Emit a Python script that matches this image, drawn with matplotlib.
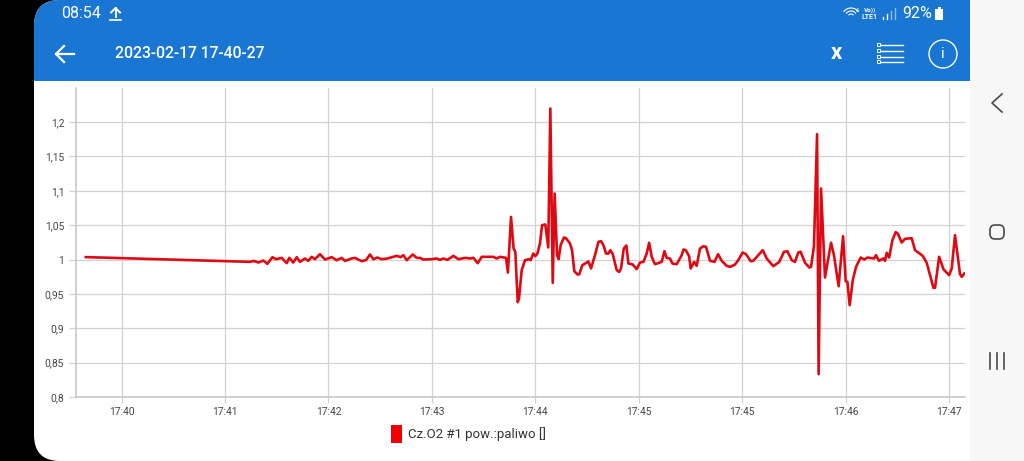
import matplotlib
matplotlib.use('Agg')
import matplotlib.pyplot as plt
from matplotlib.patches import FancyBboxPatch, Rectangle, Circle, Arc

plt.rcParams['font.family'] = ['Roboto', 'DejaVu Sans']

# seconds since the first labelled tick, oxygen ratio
times = [-20.7,
	74.5, 76.8, 79.3, 82.2, 84.6, 87.5, 89.6, 92.9, 95.8, 97.3, 99.6, 101.6, 103.5, 106.4, 108.3,
	110.3, 112.2, 115.1, 118.0, 121.9, 124.8, 127.7, 129.6, 133.5, 135.4, 139.3, 141.8, 144.1, 146.1,
	148.4, 150.9, 154.2, 157.7, 159.6, 161.9, 163.5, 165.4, 168.9, 171.2, 173.1, 175.1, 179.9, 182.8,
	184.7, 186.7, 189.0, 192.5, 195.4, 199.3, 202.1, 204.1, 206.6, 208.9, 215.7, 217.6, 219.5, 223.0,
	224.1, 225.9, 227.4, 228.4, 229.8, 230.5, 232.1, 234.0, 236.3, 237.3, 238.8, 240.0, 241.2, 242.7,
	243.9, 245.8, 247.5, 248.7, 250.1, 251.2, 252.6, 253.5, 254.7, 256.6, 257.8, 260.1, 261.3, 262.6,
	264.6, 265.5, 267.3, 270.8, 272.3, 274.6, 276.6, 278.1, 279.5, 281.0, 282.4, 283.5, 284.9, 287.2,
	288.6, 289.7, 291.3, 292.8, 294.0, 296.5, 298.8, 300.7, 302.7, 304.6, 306.0, 307.5, 309.4, 313.3,
	314.9, 316.2, 318.1, 319.5, 322.0, 324.9, 325.9, 327.2, 329.2, 330.1, 332.1, 333.6, 335.5, 337.5,
	339.0, 341.3, 343.9, 346.0, 348.1, 351.0, 352.9,
	355.8, 357.7, 360.2, 362.2, 364.9, 366.4, 371.9, 374.2, 378.0, 381.5, 384.2, 386.2, 388.7, 390.6,
	392.5, 393.9, 396.4, 398.9, 399.9, 401.6, 403.4, 404.3, 405.7, 408.0, 411.5, 413.2, 415.9, 418.5,
	420.0, 421.0, 422.3, 424.1, 426.0, 428.7, 430.8, 432.6, 436.5, 437.6, 439.3, 441.9, 442.8, 443.8,
	445.2, 447.1, 449.0, 450.2, 452.5, 454.4, 458.3, 460.2, 464.7, 467.0, 468.9, 470.9, 471.8, 474.2,
	476.7, 480.0, 481.5, 483.4, 486.3, 487.3, 488.8]
ratio = [1.0035,
	0.9966, 0.998, 0.9956, 0.9985, 0.9937, 1.0034, 1.0005, 1.0024, 0.9947, 1.0024, 0.9956, 1.0034, 0.9966, 1.0015, 0.998,
	1.0039, 1.0005, 1.0078, 1.0, 1.0034, 0.999, 1.0024, 0.998, 1.0015, 1.0024, 0.9976, 0.999, 1.0073, 1.0005,
	1.0029, 1.0005, 1.0015, 1.0039, 1.0053, 1.0034, 1.0063, 0.999, 1.0073, 1.0024, 1.0024, 1.0, 1.0005, 1.0015,
	0.9995, 1.0015, 0.9995, 1.0053, 1.0005, 1.0024, 1.0015, 1.0024, 0.9947, 1.0039, 1.0039, 1.0015, 1.0039, 1.0024,
	0.981, 1.062, 1.016, 1.011, 0.938, 0.943, 0.9845, 0.999, 1.0005, 0.999, 1.0087, 1.0049, 1.0087, 1.0233,
	1.05, 1.051, 1.0175, 1.2197, 0.966, 1.096, 1.0063, 1.0005, 1.021, 1.032, 1.031, 1.0233, 1.0136, 0.983,
	0.978, 0.9787, 0.9918, 0.9971, 0.987, 1.0063, 1.0257, 1.0267, 1.0209, 1.0087, 1.0087, 1.0136, 1.0078, 0.9845,
	0.982, 0.987, 1.016, 1.0204, 0.9942, 0.9927, 0.986, 0.9956, 0.9966, 1.0087, 1.0243, 1.0039, 0.9932, 0.9966,
	1.0121, 1.0024, 1.0015, 0.9942, 0.9932, 1.0063, 1.0146, 1.0136, 1.0049, 0.987, 0.9966, 0.9908, 1.016, 1.0194,
	1.0184, 0.9981, 0.9966, 1.0078, 0.9981, 0.9908, 0.9893,
	0.9927, 0.999, 1.0102, 1.0078, 0.9976, 0.9981, 1.0136, 1.0015, 0.9903, 0.9966, 1.0112, 1.0121, 0.999, 0.9966,
	1.0102, 1.0112, 0.9952, 0.9884, 0.9893, 1.0194, 1.1824, 0.8332, 1.1033, 0.9738, 1.0243, 1.0063, 0.9612, 1.034,
	0.9685, 0.9675, 0.9336, 0.9699, 0.9893, 1.0029, 1.0, 1.0029, 1.0015, 1.0063, 0.9981, 1.0015, 0.9981, 1.0097,
	1.0029, 1.0281, 1.0398, 1.0378, 1.0247, 1.0301, 1.031, 1.0136, 1.0053, 0.9952, 0.9772, 0.9588, 0.9588, 1.0039,
	0.9859, 0.9772, 0.9869, 1.0354, 0.9787, 0.9748, 0.9796]
x_ticks = [0, 60, 120, 180, 240, 300, 360, 420, 480]
x_labels = ['17:40', '17:41', '17:42', '17:43', '17:44', '17:45', '17:45', '17:46', '17:47']
y_ticks = [0.8, 0.85, 0.9, 0.95, 1.0, 1.05, 1.1, 1.15, 1.2]
y_labels = ['0,8', '0,85', '0,9', '0,95', '1', '1,05', '1,1', '1,15', '1,2']

W, H = 1024, 461
BLUE = '#1976d2'
GRID = '#d2d2d2'

fig = plt.figure(figsize=(W / 100, H / 100), dpi=100, facecolor='black')

# screen furniture, in pixels
bg = fig.add_axes([0, 0, 1, 1])
bg.set_xlim(0, W)
bg.set_ylim(H, 0)
bg.axis('off')
screen = FancyBboxPatch((34, 0), 1100, H, boxstyle='round,pad=0,rounding_size=26', fc='white', ec='none')
bg.add_patch(screen)
header = Rectangle((34, 0), 936, 81, fc=BLUE, ec='none')
bg.add_patch(header)
header.set_clip_path(screen)
bg.add_patch(Rectangle((970, 0), 54, H, fc='#f7f7f7', ec='none'))

bg.text(61, 14, '08:54', color='white', fontsize=11.5, va='center')
bg.plot([115.5, 115.5], [8, 17], color='white', lw=1.4)
bg.plot([111, 115.5, 120], [12.5, 8, 12.5], color='white', lw=1.4)
bg.plot([110, 121], [20, 20], color='white', lw=1.2)
bg.text(115, 54, '2023-02-17 17-40-27', color='white', fontsize=11.3, va='center', fontweight='medium')
bg.plot([56, 74], [54, 54], color='white', lw=1.6)
bg.plot([64, 56, 64], [46, 54, 62], color='white', lw=1.6)
bg.text(836, 53, 'x', color='white', fontsize=16, fontweight='bold', ha='center', va='center')
for y in [45, 51, 57, 62]:
	bg.plot([881, 903], [y, y], color='white', lw=1)
	bg.add_patch(Rectangle((877, y - 1.5), 3, 3, fc='none', ec='white', lw=0.7))
bg.add_patch(Circle((943, 54), 14, fc='none', ec='white', lw=1))
bg.text(943, 54, 'i', color='white', fontsize=11, ha='center', va='center')

# status bar
for r in [3, 6, 9]:
	bg.add_patch(Arc((851, 17), r * 2, r * 2, theta1=215, theta2=325, color='white', lw=0.8))
bg.text(856, 10, '6', color='white', fontsize=4.5, va='center')
bg.text(864, 10, 'Vo))', color='white', fontsize=4.5, va='center', fontweight='bold')
bg.text(862, 17, 'LTE1', color='white', fontsize=5, va='center', fontweight='bold')
for x, top in zip([883, 887, 891, 895], [17, 14, 11, 8]):
	bg.plot([x, x], [top, 19], color='white' if x < 890 else '#8fbdec', lw=1)
bg.text(902, 14, '92%', color='white', fontsize=11.5, va='center')
bg.add_patch(Rectangle((935, 9), 8, 11, fc='white', ec='none'))
bg.add_patch(Rectangle((937.5, 7), 3, 2, fc='white', ec='none'))

# navigation bar
bg.plot([1002, 992, 1002], [94, 103, 112], color='#4a4a4a', lw=1.2)
bg.add_patch(FancyBboxPatch((990, 225), 14, 14, boxstyle='round,pad=0,rounding_size=5', fc='none', ec='#4a4a4a', lw=1.2))
for x in [990, 997, 1004]:
	bg.plot([x, x], [353, 369], color='#4a4a4a', lw=1.2)

# legend
bg.add_patch(Rectangle((391, 425), 11, 18, fc='#f00000', ec='none'))
bg.text(408, 434.5, 'Cz.O2 #1 pow.:paliwo []', color='#333333', fontsize=9.5, va='center')

# chart
ax = fig.add_axes([76 / W, 1 - 397 / H, (965 - 76) / W, (397 - 88) / H])
ax.patch.set_alpha(0)
ax.plot(times, ratio, color='#dd0a14', lw=1.9, solid_joinstyle='round')
ax.set_xlim(-26.4, 489.2)
ax.set_ylim(0.8, 1.2495)
ax.set_xticks(x_ticks)
ax.set_xticklabels(x_labels)
ax.set_yticks(y_ticks)
ax.set_yticklabels(y_labels)
ax.grid(True, color=GRID, lw=0.9)
ax.set_axisbelow(True)
ax.tick_params(axis='x', length=4.5, width=0.9, color=GRID, labelsize=7.4, labelcolor='#444444', pad=2.5)
ax.tick_params(axis='y', length=5, width=0.9, color=GRID, labelsize=7.4, labelcolor='#444444', pad=3.5)
for side in ['top', 'right']:
	ax.spines[side].set_visible(False)
for side in ['left', 'bottom']:
	ax.spines[side].set_color('#c4c4c4')
	ax.spines[side].set_linewidth(1.1)

fig.savefig('out.png', dpi=100, facecolor=fig.get_facecolor())
